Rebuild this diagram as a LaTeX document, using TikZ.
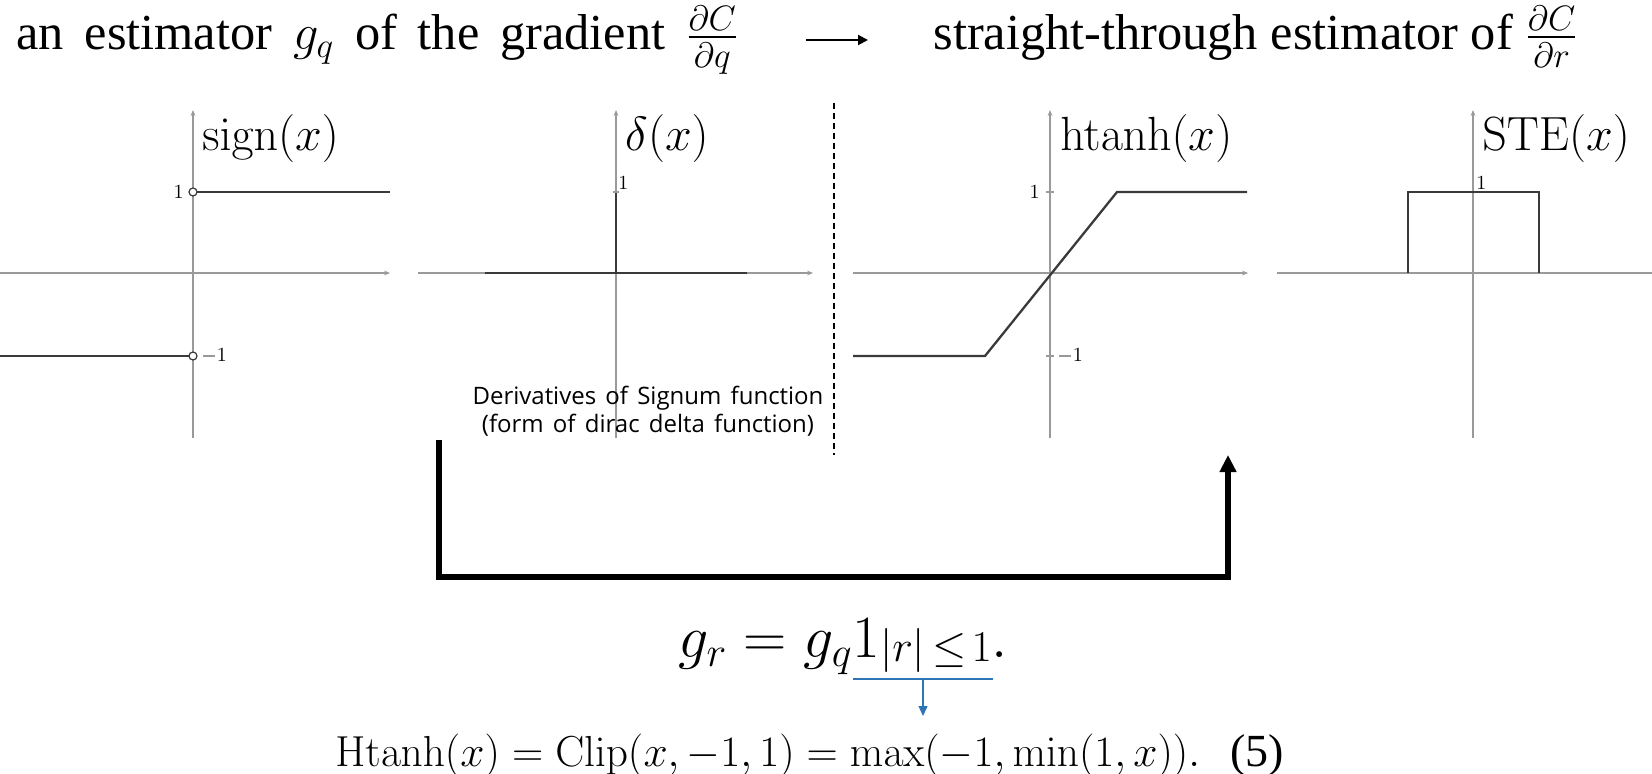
\RequirePackage{fix-cm}
\documentclass[tikz,border=0pt]{standalone}
\usepackage{amsmath}
\usepackage[no-math]{fontspec}
\setmainfont{Liberation Serif}
\newfontfamily\capfont{Open Sans}
\usetikzlibrary{arrows.meta}
\definecolor{axgray}{HTML}{9A9A9A}
\definecolor{fngray}{HTML}{3A3A3A}
\definecolor{ublue}{HTML}{2E75B6}
\newcommand\ws{\hspace{4.6pt}}
\begin{document}
\begin{tikzpicture}[x=0.5pt,y=-0.5pt,
  axis/.style={draw=axgray, line width=0.6pt, -{Stealth[length=3pt,width=2.4pt]}},
  axisplain/.style={draw=axgray, line width=0.6pt},
  fn/.style={draw=fngray, line width=1.15pt},
  opendot/.style={circle, draw=fngray, fill=white, line width=0.6pt, inner sep=0pt, minimum size=4pt},
  tick/.style={draw=axgray, line width=0.6pt},
  ticklabel/.style={inner sep=0pt, font=\fontsize{10}{12}\selectfont},
  plottitle/.style={inner sep=0pt, anchor=base west, font=\fontsize{24}{29}\selectfont},
  titletext/.style={inner sep=0pt, anchor=base west, font=\fontsize{25.2}{30}\selectfont},
  bigconn/.style={draw=black, line width=2.6pt, -{Triangle[length=8.5pt,width=8pt]}},
  blueline/.style={draw=ublue, line width=0.7pt},
  bluearrow/.style={draw=ublue, line width=0.7pt, -{Triangle[length=5pt,width=4.5pt]}},
  smallarrow/.style={draw=black, line width=1pt, -{Triangle[length=5pt,width=5pt]}},
  sep/.style={draw=black, line width=0.75pt, dash pattern=on 3pt off 2pt}
]
\useasboundingbox (0,0) rectangle (1652,774);

% ---- titles
\node[titletext] (t1) at (16,50) {\makebox[361pt][s]{an estimator $g_q$ of the gradient $\frac{\partial C}{\partial q}$}};
\node[titletext] (t2) at (933,50) {straight-through estimator of $\frac{\partial C}{\partial r}$};
\coordinate (ta) at (806,40);
\coordinate (tb) at (868,40);
\draw[smallarrow] (ta) -- (tb);

% ---- plot 1: sign
\draw[axis] (0,273) -- (390,273);
\draw[axis] (193,438) -- (193,110);
\draw[fn] (0,356) -- (189,356);
\draw[fn] (197,192) -- (390,192);
\node[opendot] (s1) at (193,192) {};
\node[opendot] (s2) at (193,356) {};
\node[ticklabel, anchor=east] (s1l) at (184,192) {$1$};
\node[ticklabel, anchor=west] (s2l) at (201,356) {$-1$};
\node[plottitle] (p1) at (202,151) {$\mathrm{sign}(x)$};

% ---- plot 2: delta
\draw[axis] (418,273) -- (813,273);
\draw[axis] (616,438) -- (616,110);
\draw[fn] (485,273) -- (747,273);
\draw[fn] (616,273) -- (616,192);
\draw[tick] (613,192) -- (619,192);
\node[ticklabel, anchor=south west] (d1l) at (618,190) {$1$};
\node[plottitle] (p2) at (625,151) {$\delta(x)$};
\node[inner sep=0pt, align=center, font=\capfont\fontsize{12}{14}\selectfont] (cap) at (648,411)
  {Derivatives\ws of\ws Signum\ws function\\(form\ws of\ws dirac\ws delta\ws function)};

% ---- separator
\coordinate (sa) at (834,103);
\coordinate (sb) at (834,455);
\draw[sep] (sa) -- (sb);

% ---- plot 3: htanh
\draw[axis] (853,273) -- (1248,273);
\draw[axis] (1050,438) -- (1050,110);
\draw[tick] (1046,192) -- (1054,192);
\draw[tick] (1046,356) -- (1054,356);
\draw[fn] (853,356) -- (985,356) -- (1117,192) -- (1247,192);
\node[ticklabel, anchor=east] (h1l) at (1040,192) {$1$};
\node[ticklabel, anchor=west] (h2l) at (1057,356) {$-1$};
\node[plottitle] (p3) at (1060,151) {$\mathrm{htanh}(x)$};

% ---- plot 4: STE
\draw[axisplain] (1277,273) -- (1652,273);
\draw[axis] (1473,438) -- (1473,110);
\draw[fn] (1408,273) -- (1408,192) -- (1539,192) -- (1539,273);
\node[ticklabel, anchor=south west] (e1l) at (1476,190) {$1$};
\node[plottitle] (p4) at (1482,151) {$\mathrm{STE}(x)$};

% ---- big connector
\coordinate (ca) at (439,440);
\coordinate (cb) at (1228,577);
\coordinate (cc) at (1228,455);
\draw[bigconn, line join=miter] (ca) -- (ca |- cb) -- (cb) -- (cc);

% ---- equations
\node[inner sep=0pt, anchor=base west, font=\fontsize{30}{36}\selectfont] (eq1) at (678,657)
  {$g_r = g_q 1$\raisebox{-2pt}{\fontsize{22}{26}\selectfont$\lvert r\rvert\mskip3mu{\leq}\mskip2mu 1$}$.$};
\coordinate (u1) at (853,679);
\coordinate (u2) at (993,679);
\coordinate (um) at (923,679);
\coordinate (ut) at (923,716);
\draw[blueline] (u1) -- (u2);
\draw[bluearrow] (um) -- (ut);
\node[inner sep=0pt, anchor=base west, font=\fontsize{21.7}{26}\selectfont] (eq2) at (335,766)
  {$\mathrm{Htanh}(x)=\mathrm{Clip}(x,-1,1)=\max(-1,\min(1,x)).$\hspace{15pt}{\fontsize{23}{26}\selectfont(5)}};
\end{tikzpicture}
\end{document}
